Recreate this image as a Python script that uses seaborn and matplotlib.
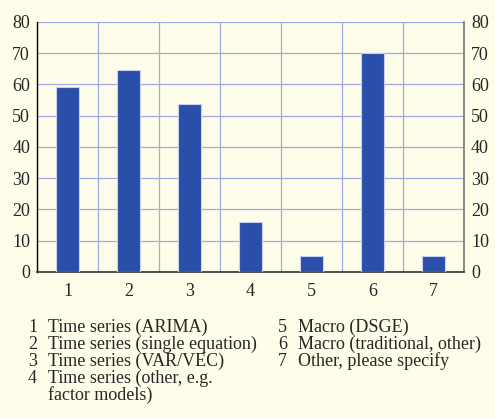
import matplotlib
matplotlib.use("Agg")
import matplotlib.pyplot as plt
import seaborn as sns
import pandas as pd

# data
categories = ["1", "2", "3", "4", "5", "6", "7"]
values = [59.2, 64.6, 53.8, 15.9, 5.1, 70.0, 5.1]
legend_left = ["Time series (ARIMA)", "Time series (single equation)",
               "Time series (VAR/VEC)", "Time series (other, e.g.\nfactor models)"]
legend_right = ["Macro (DSGE)", "Macro (traditional, other)", "Other, please specify"]

BG = "#fefde9"
BAR = "#2b4fa8"
GRID = "#a3aae3"
FS = 13


def main():
    sns.set_style("white")
    plt.rcParams["font.family"] = ["Liberation Serif", "DejaVu Serif"]
    plt.rcParams["font.size"] = FS

    df = pd.DataFrame({"cat": categories, "val": values})

    fig = plt.figure(figsize=(4.95, 4.18), dpi=100, facecolor=BG)
    ax = fig.add_axes([0.0747, 0.3493, 0.8627, 0.5981])
    ax.set_facecolor(BG)

    sns.barplot(data=df, x="cat", y="val", color=BAR, width=0.37,
                edgecolor="#c8d0f0", linewidth=0.8, saturation=1, ax=ax, zorder=3)

    ax.set_xlim(-0.5, len(categories) - 0.5)
    ax.set_ylim(0, 80)
    ax.set_yticks(range(0, 81, 10))
    ax.set_xticks([i - 0.5 for i in range(len(categories) + 1)], minor=True)

    ax.grid(True, axis="y", which="major", color=GRID, lw=0.9, zorder=0)
    ax.grid(True, axis="x", which="minor", color=GRID, lw=0.9, zorder=0)
    ax.grid(False, axis="x", which="major")
    ax.set_axisbelow(True)

    ax.set_xlabel("")
    ax.set_ylabel("")
    ax.tick_params(axis="x", which="major", length=0, pad=8, labelsize=FS)
    ax.tick_params(axis="x", which="minor", length=4, width=1.2, color="black", direction="out")
    ax.tick_params(axis="y", length=0, pad=5, labelsize=FS, labelright=True, right=False)

    ax.spines["top"].set_visible(False)
    ax.spines["left"].set_color("black")
    ax.spines["left"].set_linewidth(1.0)
    ax.spines["bottom"].set_color("#333333")
    ax.spines["bottom"].set_linewidth(1.2)
    ax.spines["right"].set_color("#777777")
    ax.spines["right"].set_linewidth(1.2)

    # numbered legend below the axes, one baseline per row
    base0 = 332
    step = 17

    def put(x_num, x_txt, row, num, label):
        lines = label.split("\n")
        fig.text(x_num / 495, 1 - (base0 + row * step) / 418, str(num),
                 va="baseline", ha="left", fontsize=FS)
        for k, line in enumerate(lines):
            fig.text(x_txt / 495, 1 - (base0 + (row + k) * step) / 418, line,
                     va="baseline", ha="left", fontsize=FS)

    for i, lab in enumerate(legend_left):
        put(28, 48, i, i + 1, lab)
    for i, lab in enumerate(legend_right):
        put(278, 298, i, i + 5, lab)

    fig.savefig("out.png", dpi=100, facecolor=BG)


if __name__ == "__main__":
    main()
